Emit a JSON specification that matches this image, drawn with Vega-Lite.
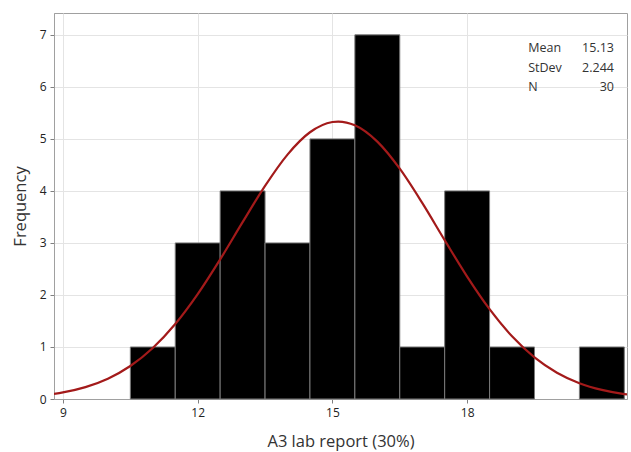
{
  "$schema": "https://vega.github.io/schema/vega-lite/v6.json",
  "autosize": "none",
  "padding": {"left": 54, "top": 13, "right": 4, "bottom": 53},
  "width": 573,
  "height": 386,
  "background": "white",
  "config": {
    "font": "Open Sans",
    "view": {"stroke": "#a0a0a0", "strokeWidth": 1},
    "axis": {
      "domainColor": "#a0a0a0",
      "tickColor": "#808080",
      "tickSize": 4,
      "gridColor": "#e4e4e4",
      "labelColor": "#222222",
      "labelFontSize": 12,
      "labelFont": "Open Sans",
      "titleFont": "Open Sans",
      "titleFontSize": 16.5,
      "titleFontWeight": "normal",
      "titleColor": "#333333"
    }
  },
  "datasets": {
    "bins": [
      {"bin_start": 10.5, "bin_end": 11.5, "count": 1},
      {"bin_start": 11.5, "bin_end": 12.5, "count": 3},
      {"bin_start": 12.5, "bin_end": 13.5, "count": 4},
      {"bin_start": 13.5, "bin_end": 14.5, "count": 3},
      {"bin_start": 14.5, "bin_end": 15.5, "count": 5},
      {"bin_start": 15.5, "bin_end": 16.5, "count": 7},
      {"bin_start": 16.5, "bin_end": 17.5, "count": 1},
      {"bin_start": 17.5, "bin_end": 18.5, "count": 4},
      {"bin_start": 18.5, "bin_end": 19.5, "count": 1},
      {"bin_start": 20.5, "bin_end": 21.5, "count": 1}
    ],
    "curve": [
      {"x": 8.8, "f": 0.0998},
      {"x": 9, "f": 0.1278},
      {"x": 9.5, "f": 0.2291},
      {"x": 10, "f": 0.3909},
      {"x": 10.5, "f": 0.6348},
      {"x": 11, "f": 0.9806},
      {"x": 11.5, "f": 1.4414},
      {"x": 12, "f": 2.0162},
      {"x": 12.5, "f": 2.6837},
      {"x": 13, "f": 3.3991},
      {"x": 13.5, "f": 4.0968},
      {"x": 14, "f": 4.6984},
      {"x": 14.5, "f": 5.1274},
      {"x": 15, "f": 5.3246},
      {"x": 15.13, "f": 5.3335},
      {"x": 15.5, "f": 5.2615},
      {"x": 16, "f": 4.9474},
      {"x": 16.5, "f": 4.4266},
      {"x": 17, "f": 3.7691},
      {"x": 17.5, "f": 3.0536},
      {"x": 18, "f": 2.3541},
      {"x": 18.5, "f": 1.7269},
      {"x": 19, "f": 1.2055},
      {"x": 19.5, "f": 0.8008},
      {"x": 20, "f": 0.5061},
      {"x": 20.5, "f": 0.3044},
      {"x": 21, "f": 0.1742},
      {"x": 21.5, "f": 0.0949},
      {"x": 21.56, "f": 0.0881}
    ],
    "stats": [
      {"label": "Mean", "value": "15.13", "lx": 19.36, "vx": 21.27, "y": 6.75},
      {"label": "StDev", "value": "2.244", "lx": 19.36, "vx": 21.27, "y": 6.37},
      {"label": "N", "value": "30", "lx": 19.36, "vx": 21.27, "y": 6.0}
    ]
  },
  "layer": [
    {
      "data": {"name": "bins"},
      "mark": {"type": "rect", "color": "#000000", "stroke": "#7a7a7a", "strokeWidth": 1},
      "encoding": {
        "x": {
          "field": "bin_start",
          "type": "quantitative",
          "scale": {"domain": [8.8, 21.56], "nice": false, "zero": false},
          "axis": {"values": [9, 12, 15, 18], "title": "A3 lab report (30%)", "titlePadding": 15, "labelPadding": 4}
        },
        "x2": {"field": "bin_end"},
        "y": {
          "field": "count",
          "type": "quantitative",
          "scale": {"domain": [0, 7.42], "nice": false},
          "axis": {"values": [0, 1, 2, 3, 4, 5, 6, 7], "title": "Frequency", "titlePadding": 11, "labelPadding": 4}
        },
        "y2": {"datum": 0}
      }
    },
    {
      "data": {"name": "curve"},
      "mark": {"type": "line", "color": "#a31a1a", "strokeWidth": 2.2, "interpolate": "monotone", "clip": true},
      "encoding": {
        "x": {"field": "x", "type": "quantitative"},
        "y": {"field": "f", "type": "quantitative"}
      }
    },
    {
      "data": {"name": "stats"},
      "mark": {"type": "text", "align": "left", "baseline": "middle", "fontSize": 12.5, "color": "#333333", "font": "Open Sans"},
      "encoding": {
        "x": {"field": "lx", "type": "quantitative"},
        "y": {"field": "y", "type": "quantitative"},
        "text": {"field": "label"}
      }
    },
    {
      "data": {"name": "stats"},
      "mark": {"type": "text", "align": "right", "baseline": "middle", "fontSize": 12.5, "color": "#333333", "font": "Open Sans"},
      "encoding": {
        "x": {"field": "vx", "type": "quantitative"},
        "y": {"field": "y", "type": "quantitative"},
        "text": {"field": "value"}
      }
    }
  ]
}
